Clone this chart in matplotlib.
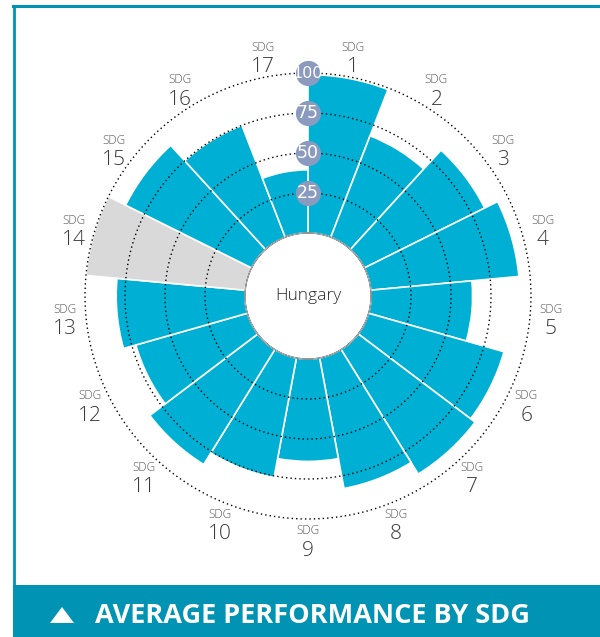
import numpy as np
import matplotlib
matplotlib.use("Agg")
import matplotlib.pyplot as plt
from matplotlib.lines import Line2D
from matplotlib.patches import Rectangle, Polygon

# Average SDG scores, Hungary (SDG 14 has no score and is drawn as a grey placeholder)
goals = [str(i) for i in range(1, 18)]
scores = [99, 68, 84, 93, 63.5, 88, 91.5, 83, 64, 76, 84.5, 72.5, 80.5, 100, 88, 75, 39.5]
no_data = [False] * 13 + [True] + [False] * 3
ring_values = [25, 50, 75, 100]
country = "Hungary"
banner_title = "AVERAGE PERFORMANCE BY SDG"

BAR = "#00b0d4"
GREY = "#d9d9d9"
TEAL = "#0093b3"
BADGE = "#8a9bbf"

W, H = 600, 637
fig = plt.figure(figsize=(W / 100, H / 100), dpi=100)

# polar axes centred on the wheel, the hole is made with a negative r-origin
R = 255
cx, cy = 308, 296
ax = fig.add_axes([(cx - R) / W, (H - cy - R) / H, 2 * R / W, 2 * R / H], projection="polar")
ax.set_theta_zero_location("N")
ax.set_theta_direction(-1)
ax.set_ylim(0, 120)
ax.set_rorigin(-39.375)
ax.grid(False)
ax.set_xticks([])
ax.set_yticks([])
for sp in ax.spines.values():
    sp.set_visible(False)

n = len(goals)
width = 2 * np.pi / n
theta = np.arange(n) * width
colors = [GREY if nd else BAR for nd in no_data]
ax.bar(theta, scores, width=width, bottom=0, align="edge", color=colors,
       edgecolor="white", linewidth=1.2, zorder=2)

# dotted reference rings
t = np.linspace(0, 2 * np.pi, 500)
for v in ring_values:
    ax.plot(t, np.full_like(t, v), color="black", lw=1.0, ls=(0, (1, 2.2)), zorder=3)

# hole outline
ax.plot(t, np.zeros_like(t), color="#c0c0c0", lw=0.7, zorder=3, clip_on=False)

# ring value badges on the vertical axis
ax.scatter(np.zeros(len(ring_values)), ring_values, s=330, color=BADGE, zorder=4, linewidths=0)
for v in ring_values:
    ax.text(0, v, str(v), color="white", fontsize=12.5 if v < 100 else 11.5,
            ha="center", va="center",
            family=["Liberation Sans Narrow", "DejaVu Sans"], zorder=5)

# goal labels around the wheel
for i, g in enumerate(goals):
    th = (i + 0.5) * width
    ax.annotate("SDG", (th, 113), xytext=(0, 4), textcoords="offset points",
                ha="center", va="baseline", fontsize=8.5, color="#5a5a5a",
                family="Open Sans", fontweight="light", annotation_clip=False)
    ax.annotate(g, (th, 113), xytext=(0, -11.5), textcoords="offset points",
                ha="center", va="baseline", fontsize=15, color="#3a3a3a",
                family="Open Sans", fontweight="light", annotation_clip=False)

ax.text(0, -39.375, country, ha="center", va="center", fontsize=12.5,
        color="#2a2a2a", family="Open Sans", fontweight="light")

# frame and banner
fig.add_artist(Line2D([13 / W, 1], [1 - 5.5 / H, 1 - 5.5 / H], color=TEAL, lw=2.2))
fig.add_artist(Line2D([14 / W, 14 / W], [52 / H, 1 - 5.5 / H], color=TEAL, lw=2.0))
fig.add_artist(Rectangle((13 / W, 0), 1 - 13 / W, 52 / H, color=TEAL, lw=0))
fig.add_artist(Polygon([[50 / W, (H - 623) / H], [74 / W, (H - 623) / H], [62 / W, (H - 607) / H]],
                       closed=True, color="white", lw=0))
fig.text(95 / W, (H - 623) / H, banner_title, color="white", fontsize=19.5,
         fontweight="bold", family="Open Sans", ha="left", va="baseline")

fig.savefig("out.png", dpi=100, facecolor="white")
